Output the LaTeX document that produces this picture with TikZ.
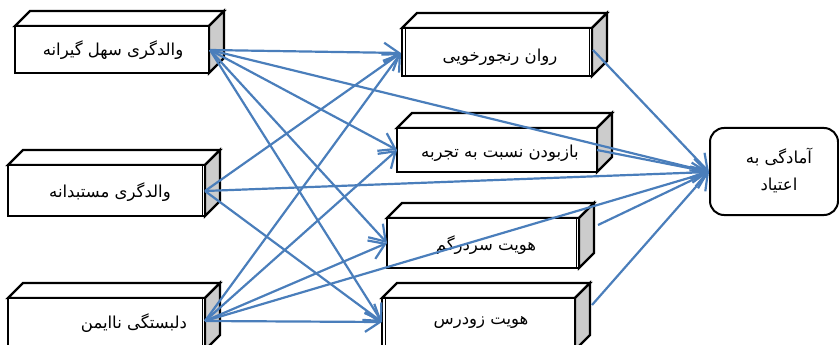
\documentclass[tikz,border=0pt]{standalone}
\usepackage{fontspec}
\newfontfamily\fa[Script=Arabic]{DejaVu Sans}
\TeXXeTstate=1
\usetikzlibrary{arrows.meta}
\definecolor{arr}{HTML}{4A7EBB}
\definecolor{sidegray}{HTML}{CCCCCC}
\tikzset{
  facebox/.style={draw=black, line width=2.4pt, fill=white, line join=miter},
  sideface/.style={draw=black, line width=2.4pt, fill=sidegray, line join=miter},
  innerline/.style={draw=black, line width=0.9pt},
  lbl/.style={font=\fa\fontsize{16.5}{19}\selectfont, inner sep=0pt},
  conn/.style={draw=arr, line width=2.2pt, -{Straight Barb[length=15pt,width=20pt]}},
  outbox/.style={draw=black, line width=2pt, fill=white, rounded corners=14pt},
}
% name, x1, y1, x2, y2
\newcommand\cuboid[5]{%
  \path[facebox] (#2,#3) -- ++(15,-15) -- ({#4+15},{#3-15}) -- (#4,#3) -- cycle;
  \path[sideface] (#4,#3) -- ({#4+15},{#3-15}) -- ({#4+15},{#5-15}) -- (#4,#5) -- cycle;
  \path[facebox] (#2,#3) rectangle (#4,#5);
  \coordinate (#1) at ({(#2+#4)/2},{(#3+#5)/2});
}
\begin{document}
\begin{tikzpicture}[x=1pt,y=-1pt]
\useasboundingbox (0,0) rectangle (839,345);

\cuboid{b1}{15}{26}{209}{73}
\cuboid{b2}{8}{165}{205}{216}
\cuboid{b3}{8}{298}{205}{350}
\cuboid{mA}{402}{28}{592}{76}
\cuboid{mB}{397}{128}{597}{172}
\cuboid{mC}{387}{218}{579}{268}
\cuboid{mD}{382}{298}{575}{350}

% double-line edges
\draw[innerline] (202,165) -- (202,216);
\draw[innerline] (202,298) -- (202,350);
\draw[innerline] (405,28) -- (405,76);
\draw[innerline] (589,28) -- (589,76);
\draw[innerline] (576,218) -- (576,268);
\draw[innerline] (385,298) -- (385,350);

\node[outbox, minimum width=128pt, minimum height=87pt] (Y) at (774,171.5) {};

% labels
\node[lbl] (t1) at (113,50) {\beginR والدگری سهل گیرانه\endR};
\node[lbl] (t2) at (110,192) {\beginR والدگری مستبدانه\endR};
\node[lbl] (t3) at (134,323) {\beginR دلبستگی ناایمن\endR};
\node[lbl] (tA) at (500,57) {\beginR روان رنجورخویی\endR};
\node[lbl] (tB) at (500,153) {\beginR بازبودن نسبت به تجربه\endR};
\node[lbl] (tC) at (486,245) {\beginR هویت سردرگم\endR};
\node[lbl] (tD) at (481,322) {\beginR هویت زودرس\endR};
\node[lbl] (tY1) at (779,157) {\beginR آمادگی به\endR};
\node[lbl] (tY2) at (779,185) {\beginR اعتیاد\endR};

% connection points
\coordinate (o1) at (210,50);
\coordinate (o2) at (205,191);
\coordinate (o3) at (205,321);
\coordinate (iA) at (401,53);
\coordinate (iB) at (397,150);
\coordinate (iC) at (387,243);
\coordinate (iD) at (382,322);
\coordinate (iY) at (709,172);
\coordinate (oA) at (593,50);
\coordinate (oB) at (597,150);
\coordinate (oC) at (598,225);
\coordinate (oD) at (592,305);

\draw[conn] (o1) -- (iA);
\draw[conn] (o1) -- (iB);
\draw[conn] (o1) -- (iC);
\draw[conn] (o1) -- (iD);
\draw[conn] (o1) -- (iY);
\draw[conn] (o2) -- (iA);
\draw[conn] (o2) -- (iY);
\draw[conn] (o2) -- (iD);
\draw[conn] (o3) -- (iA);
\draw[conn] (o3) -- (iB);
\draw[conn] (o3) -- (iC);
\draw[conn] (o3) -- (iD);
\draw[conn] (o3) -- (iY);
\draw[conn] (oA) -- (iY);
\draw[conn] (oB) -- (iY);
\draw[conn] (oC) -- (iY);
\draw[conn] (oD) -- (iY);
\end{tikzpicture}
\end{document}
